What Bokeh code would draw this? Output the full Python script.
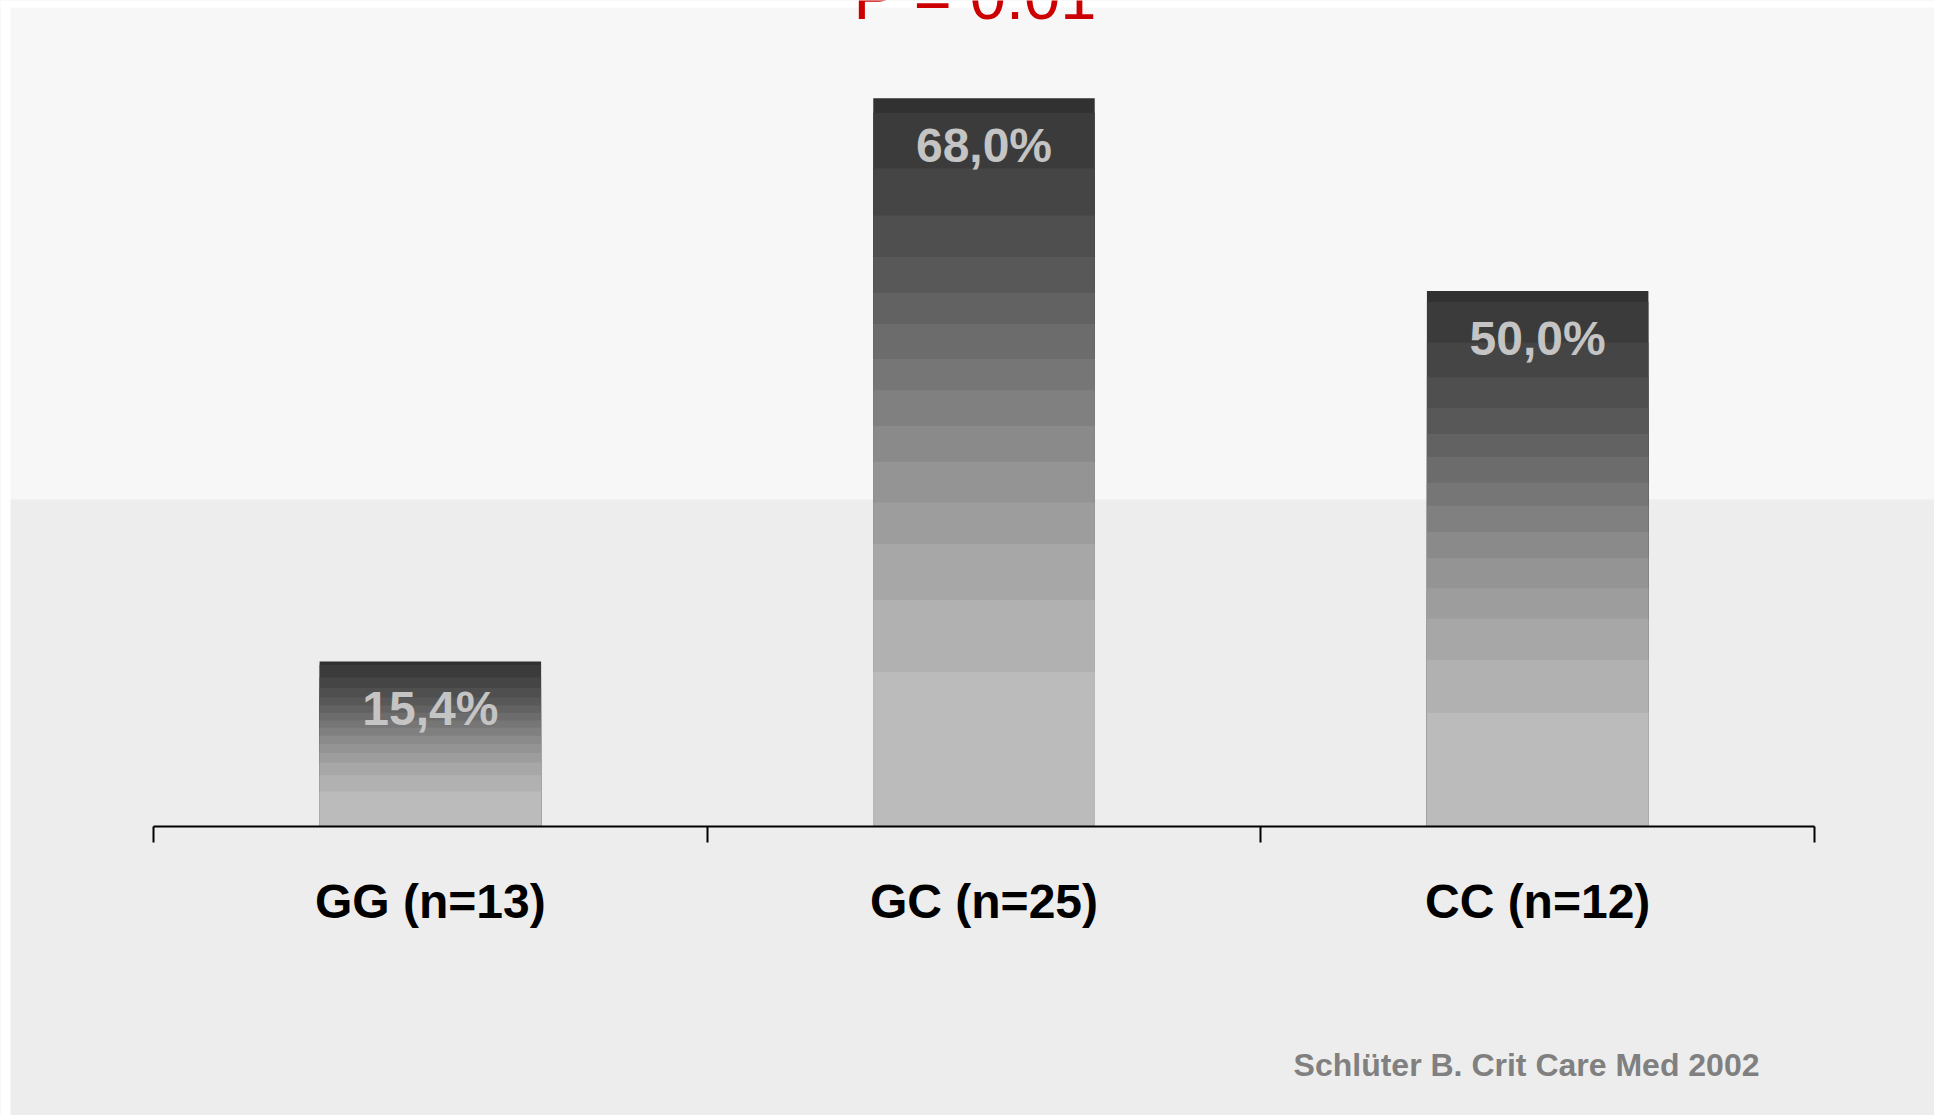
from bokeh.plotting import figure
from bokeh.models import Range1d, LinearAxis, FixedTicker, BoxAnnotation, Label, ColumnDataSource
from bokeh.embed import file_html
from bokeh.resources import INLINE
from bokeh.core.properties import value

# ---------------- data ----------------
categories = ["GG (n=13)", "GC (n=25)", "CC (n=12)"]
percent = [15.4, 68.0, 50.0]
value_labels = ["15,4%", "68,0%", "50,0%"]
p_value_text = "P = 0.01"
source_text = "Schlüter B. Crit Care Med 2002"

# ---------------- layout / style ----------------
W, H = 1934, 1115
AX_Y = 826            # pixel row of the category axis (value 0)
X0_PX, XN_PX = 153, 1814
n = len(categories)
PX_PER_X = (XN_PX - X0_PX) / n
PX_PER_Y = 10.71

x_start = -X0_PX / PX_PER_X
x_end = n + (W - XN_PX) / PX_PER_X
y_start = -(H - AX_Y) / PX_PER_Y
y_end = AX_Y / PX_PER_Y


def dx(px):
    return x_start + px / PX_PER_X


def dy(py):
    return (AX_Y - py) / PX_PER_Y


FONT = "Liberation Sans"

# gradient bands (fraction of bar height, bottom -> top) and their grey levels
band_fracs = [0.0, 0.212, 0.311, 0.388, 0.445, 0.501, 0.550, 0.599, 0.642,
              0.690, 0.733, 0.782, 0.839, 0.904, 0.980, 1.0]
nb = len(band_fracs) - 1
band_colors = []
for j in range(nb):
    g = round(187 - (187 - 49) * j / (nb - 1))
    band_colors.append("#%02x%02x%02x" % (g, g, g))

p = figure(width=W, height=H, x_range=Range1d(x_start, x_end), y_range=Range1d(y_start, y_end),
           output_backend="svg", toolbar_location=None, min_border=0,
           x_axis_type=None, y_axis_type=None)
p.outline_line_color = None
p.background_fill_color = "#ededed"
p.border_fill_color = "white"

# background panels
p.add_layout(BoxAnnotation(bottom=dy(499), fill_color="#f7f7f7", fill_alpha=1,
                           line_color=None, level="underlay"))
p.add_layout(BoxAnnotation(bottom=dy(7), fill_color="white", fill_alpha=1,
                           line_color=None, level="underlay"))
p.add_layout(BoxAnnotation(right=dx(10), fill_color="white", fill_alpha=1,
                           line_color=None, level="underlay"))

# bars built as overlapping bands (tallest/darkest first)
xs, tops, cols = [], [], []
for i, v in enumerate(percent):
    for j in reversed(range(nb)):
        xs.append(i + 0.5)
        tops.append(v * band_fracs[j + 1])
        cols.append(band_colors[j])
src = ColumnDataSource(dict(x=xs, top=tops, color=cols))
p.vbar(x="x", top="top", bottom=0, width=0.4, fill_color="color", line_color=None, source=src)

# value labels inside bars
lab_src = ColumnDataSource(dict(x=[i + 0.5 for i in range(n)], y=percent, t=value_labels))
p.text(x="x", y="y", text="t", source=lab_src, text_align="center", text_baseline="alphabetic",
       y_offset=47, text_font=value(FONT), text_font_style="bold", text_font_size="48px",
       text_color="#c4c4c4")

# category axis at value 0
xaxis = LinearAxis(fixed_location=0,
                   ticker=FixedTicker(ticks=[i + 0.5 for i in range(n)],
                                      minor_ticks=list(range(n + 1))),
                   major_label_overrides={i + 0.5: c for i, c in enumerate(categories)})
xaxis.bounds = (0, n)
xaxis.axis_line_width = 2
xaxis.axis_line_color = "black"
xaxis.major_tick_out = 0
xaxis.major_tick_in = 0
xaxis.minor_tick_out = 16
xaxis.minor_tick_in = 0
xaxis.minor_tick_line_width = 2
xaxis.minor_tick_line_color = "black"
xaxis.major_label_text_font = FONT
xaxis.major_label_text_font_style = "bold"
xaxis.major_label_text_font_size = "48px"
xaxis.major_label_text_color = "black"
xaxis.major_label_standoff = 32
p.add_layout(xaxis, "below")

# p-value title (cut at top edge, as in the original slide)
p.add_layout(Label(x=dx(975), y=dy(-4), text=p_value_text, text_align="center",
                   text_baseline="alphabetic", text_font=FONT, text_font_size="65px",
                   text_color="#cc0000"))

# source note
p.add_layout(Label(x=dx(1759), y=dy(1064), text=source_text, text_align="right",
                   text_baseline="alphabetic", text_font=FONT, text_font_style="bold",
                   text_font_size="32px", text_color="#808080"))

open("out.html", "w").write(file_html(p, INLINE))
